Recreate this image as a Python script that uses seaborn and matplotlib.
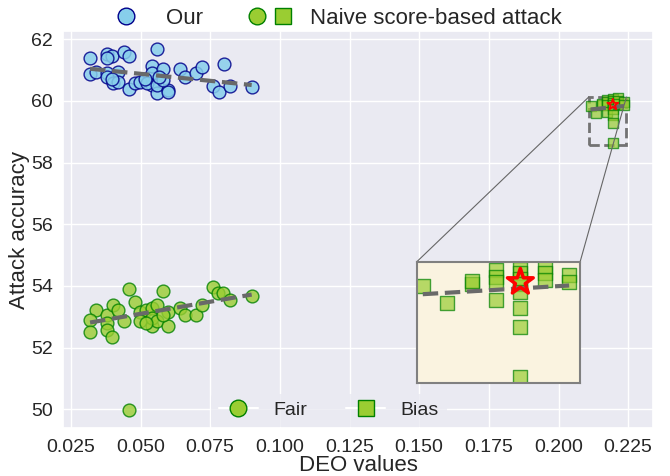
import numpy as np
import matplotlib.pyplot as plt
import seaborn as sns
from matplotlib.lines import Line2D
from matplotlib.legend_handler import HandlerTuple
from mpl_toolkits.axes_grid1.inset_locator import mark_inset

sns.set_theme(style='darkgrid')
plt.rcParams['font.family'] = ['Liberation Sans', 'DejaVu Sans']

#------------------------------------
# Data
# Our attack (fair models)
our_deo = [0.0319, 0.0379, 0.0397, 0.0379, 0.0439, 0.0459, 0.0558, 0.0319, 0.0341, 0.0379,
           0.0419, 0.0379, 0.0401, 0.0421, 0.0397, 0.0459, 0.0481, 0.0499, 0.0541, 0.0541,
           0.0580, 0.0541, 0.0523, 0.0558, 0.0558, 0.0600, 0.0600, 0.0582, 0.0640, 0.0660,
           0.0699, 0.0720, 0.0800, 0.0761, 0.0783, 0.0821, 0.0899, 0.0517, 0.0565]
our_acc = [61.38, 61.51, 61.46, 61.40, 61.60, 61.46, 61.69, 60.87, 60.93, 60.90,
           60.95, 60.79, 60.59, 60.63, 60.70, 60.38, 60.57, 60.63, 61.13, 60.92,
           61.03, 60.52, 60.57, 60.25, 60.52, 60.36, 60.30, 60.68, 61.03, 60.79,
           60.92, 61.11, 61.20, 60.49, 60.30, 60.49, 60.46, 60.72, 60.79]

# Naive score-based attack on fair models
naive_fair_deo = [0.0459, 0.0341, 0.0319, 0.0319, 0.0379, 0.0401, 0.0421, 0.0379, 0.0379, 0.0399,
                  0.0439, 0.0481, 0.0499, 0.0521, 0.0541, 0.0580, 0.0558, 0.0499, 0.0541, 0.0541,
                  0.0558, 0.0600, 0.0600, 0.0580, 0.0640, 0.0660, 0.0699, 0.0720, 0.0759, 0.0779,
                  0.0797, 0.0821, 0.0899, 0.0521]
naive_fair_acc = [53.91, 53.23, 52.90, 52.52, 53.06, 53.39, 53.23, 52.79, 52.58, 52.36,
                  52.85, 53.49, 53.17, 53.23, 53.30, 53.84, 53.39, 52.85, 52.69, 52.95,
                  52.85, 53.17, 52.69, 53.06, 53.30, 53.06, 53.06, 53.39, 53.95, 53.77,
                  53.77, 53.56, 53.69, 52.79]
# one fair run far below the rest (not used in the trend line)
outlier_deo = [0.0459]
outlier_acc = [49.97]

# Naive score-based attack on biased models
naive_bias_deo = [0.2115, 0.2135, 0.2155, 0.2155, 0.2175, 0.2175, 0.2175, 0.2175,
                  0.2195, 0.2195, 0.2195, 0.2195, 0.2195, 0.2195, 0.2195, 0.2195,
                  0.2215, 0.2215, 0.2215, 0.2235, 0.2235]
naive_bias_acc = [59.83, 59.61, 59.86, 59.89, 60.03, 59.95, 59.88, 59.65,
                  60.05, 59.99, 59.92, 59.86, 59.75, 59.55, 59.30, 58.65,
                  60.08, 59.99, 59.91, 59.97, 59.88]

star_deo = [0.2195]
star_acc = [59.88]

xticks = [0.025, 0.050, 0.075, 0.100, 0.125, 0.150, 0.175, 0.200, 0.225]
yticks = [50, 52, 54, 56, 58, 60, 62]

#------------------------------------
fig, ax = plt.subplots(figsize=(6.7, 4.76), dpi=100)
fig.subplots_adjust(left=0.0945, right=0.975, top=0.935, bottom=0.100)

line_kws = dict(ls='--', lw=3, color='dimgray', zorder=4)
circ_fair = dict(s=85, color='yellowgreen', edgecolor='green', linewidth=1, alpha=0.8, zorder=2)

sns.scatterplot(x=our_deo, y=our_acc, ax=ax, s=85, color='skyblue',
                edgecolor='darkblue', linewidth=1, alpha=0.85, zorder=2)
sns.scatterplot(x=naive_fair_deo, y=naive_fair_acc, ax=ax, **circ_fair)
sns.scatterplot(x=outlier_deo, y=outlier_acc, ax=ax, **circ_fair)
sns.scatterplot(x=naive_bias_deo, y=naive_bias_acc, ax=ax, s=55, marker='s',
                color='yellowgreen', edgecolor='green', linewidth=1, alpha=0.7, zorder=2)

sns.regplot(x=our_deo, y=our_acc, ax=ax, scatter=False, ci=None, line_kws=line_kws)
sns.regplot(x=naive_fair_deo, y=naive_fair_acc, ax=ax, scatter=False, ci=None, line_kws=line_kws)
sns.regplot(x=naive_bias_deo, y=naive_bias_acc, ax=ax, scatter=False, ci=None, line_kws=line_kws)

ax.scatter(star_deo, star_acc, marker='*', s=70, facecolors='none',
           edgecolors='red', linewidths=1.3, zorder=5)

ax.set_xlim(0.0223, 0.234)
ax.set_ylim(49.38, 62.27)
ax.set_xticks(xticks)
ax.set_xticklabels([f'{t:.3f}' for t in xticks])
ax.set_yticks(yticks)
ax.tick_params(labelsize=14, pad=1.5)
ax.set_xlabel('DEO values', fontsize=16, labelpad=-0.5)
ax.set_ylabel('Attack accuracy', fontsize=16, labelpad=0.5)

#------------------------------------
# Zoomed inset on the biased cluster
axins = ax.inset_axes([0.599, 0.113, 0.277, 0.306])
axins.set_facecolor('#FAF3E0')
sns.scatterplot(x=naive_bias_deo, y=naive_bias_acc, ax=axins, s=110, marker='s',
                color='yellowgreen', edgecolor='green', linewidth=1, alpha=0.7, zorder=2)
sns.regplot(x=naive_bias_deo, y=naive_bias_acc, ax=axins, scatter=False, ci=None, line_kws=line_kws)
axins.scatter(star_deo, star_acc, marker='*', s=380, facecolors='none',
              edgecolors='red', linewidths=2.5, zorder=5)
axins.set_xlim(0.2110, 0.2244)
axins.set_ylim(58.57, 60.14)
axins.set_xticks([])
axins.set_yticks([])
axins.set_xlabel('')
axins.set_ylabel('')
for sp in axins.spines.values():
    sp.set_edgecolor('gray')
    sp.set_linewidth(1.5)

pp, p1, p2 = mark_inset(ax, axins, loc1=2, loc2=1, fc='none', ec='0.4', lw=0.8)
pp.set_linestyle('--')
pp.set_linewidth(2)
pp.set_edgecolor('0.45')

#------------------------------------
# Legends
our_h = Line2D([], [], ls='', marker='o', ms=12, mfc='skyblue', mec='darkblue')
naive_c = Line2D([], [], ls='', marker='o', ms=12, mfc='yellowgreen', mec='green')
naive_s = Line2D([], [], ls='', marker='s', ms=12, mfc='yellowgreen', mec='green')
fig.legend([our_h, (naive_c, naive_s)], ['Our', 'Naive score-based attack'],
           handler_map={tuple: HandlerTuple(ndivide=None)},
           loc='upper center', bbox_to_anchor=(0.497, 1.025), ncol=2,
           frameon=False, fontsize=16)

fair_h = Line2D([0], [0], marker='o', color='w', markerfacecolor='yellowgreen',
                markeredgecolor='green', markersize=12)
bias_h = Line2D([0], [0], marker='s', color='w', markerfacecolor='yellowgreen',
                markeredgecolor='green', markersize=12)
leg = fig.legend([fair_h, bias_h], ['Fair', 'Bias'], loc='lower center',
                 bbox_to_anchor=(0.491, 0.103), borderaxespad=0, ncol=2, fontsize=14)
leg.get_frame().set_edgecolor('none')

fig.savefig('out.png', dpi=100)
